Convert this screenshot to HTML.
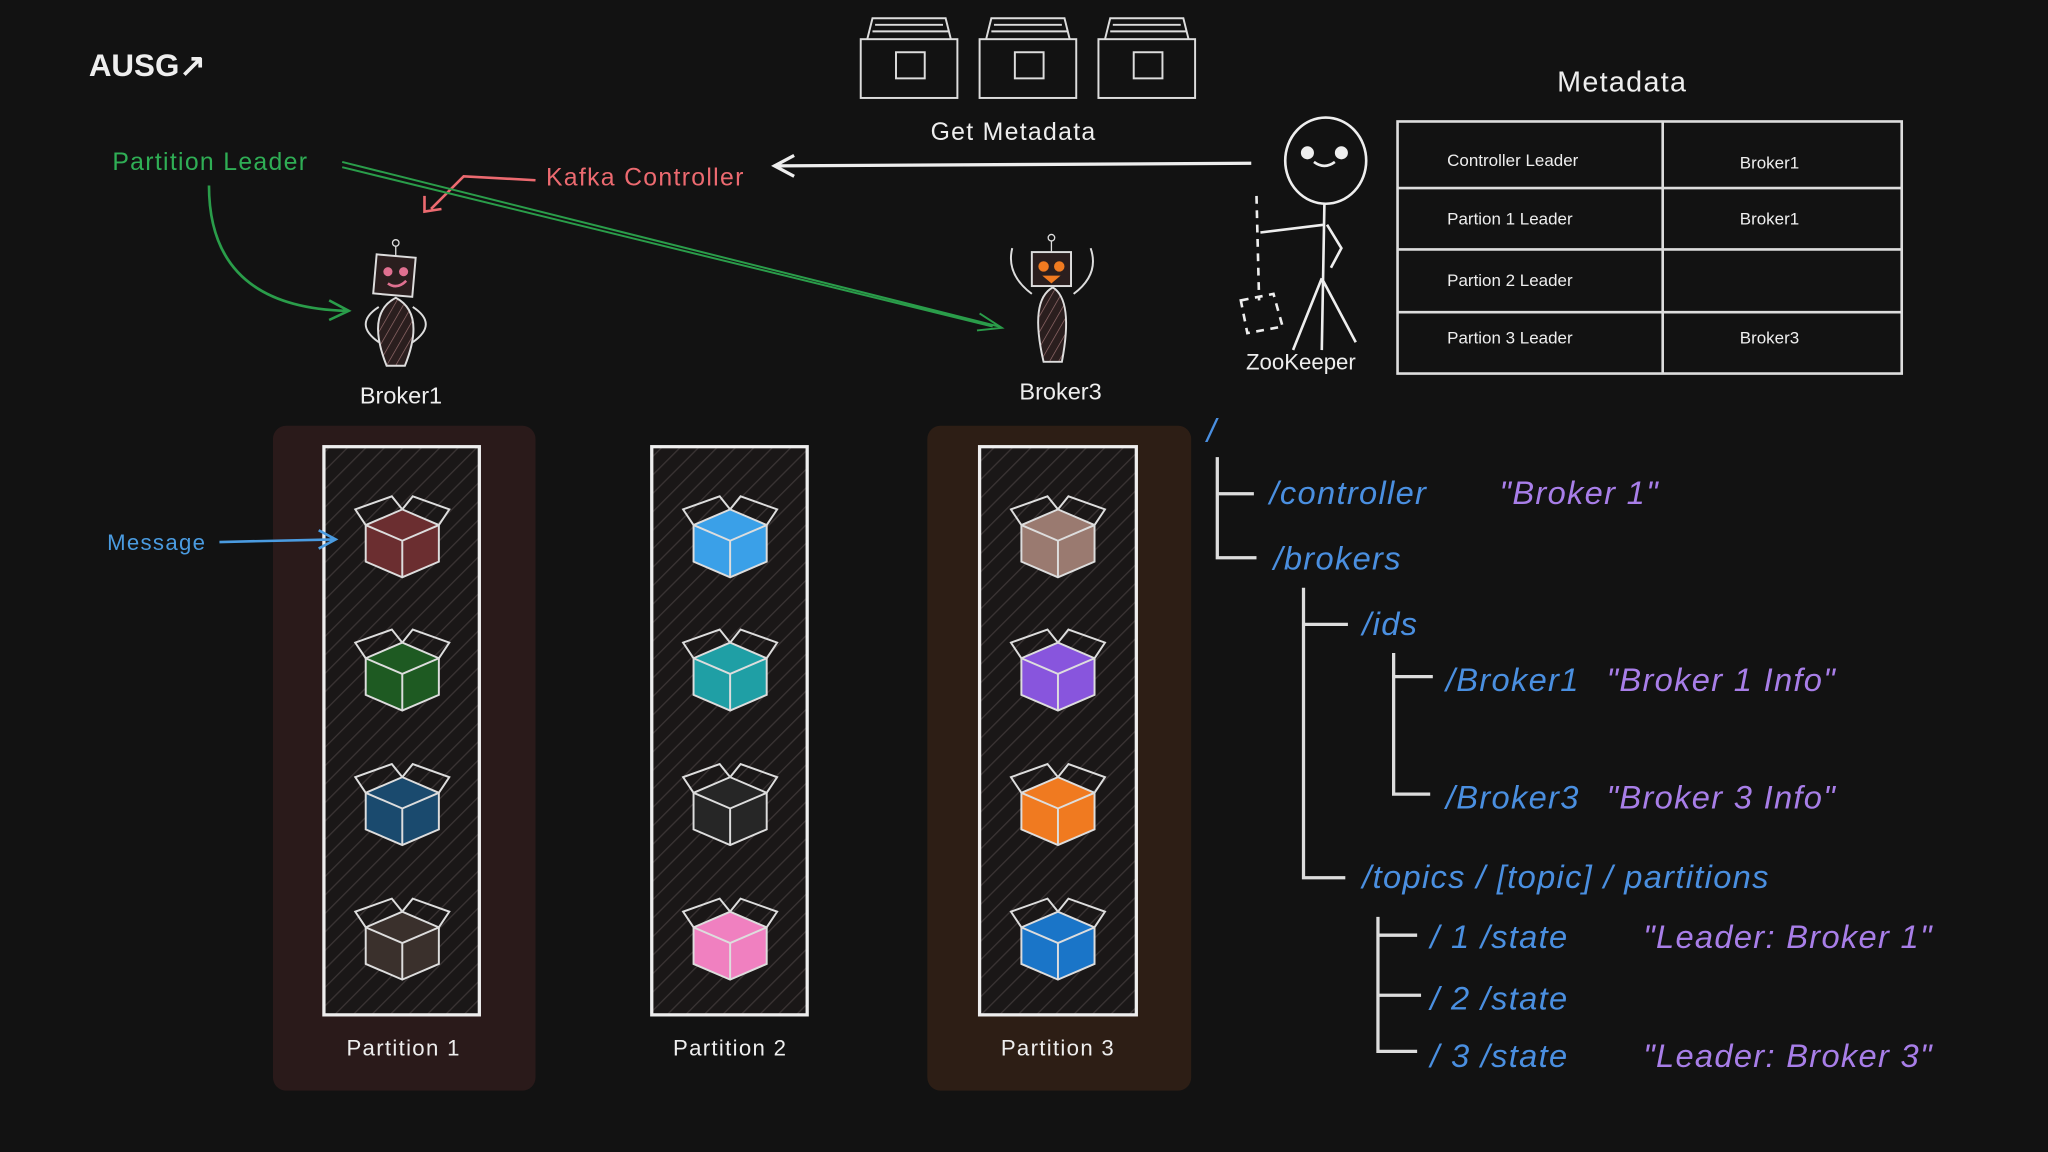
<!DOCTYPE html>
<html><head><meta charset="utf-8"><style>
html,body{margin:0;padding:0;background:#121212;}
svg{display:block;}
text{font-family:"Liberation Sans",sans-serif;}
</style></head><body>
<svg width="2048" height="1152" viewBox="0 0 1568 882" xmlns="http://www.w3.org/2000/svg">
<defs>
<pattern id="h" width="10" height="10" patternUnits="userSpaceOnUse" patternTransform="rotate(45)">
<rect width="10" height="10" fill="#1a1717"/><line x1="0" y1="0" x2="0" y2="10" stroke="#3a3434" stroke-width="2"/></pattern>
<pattern id="hr" width="6" height="6" patternUnits="userSpaceOnUse" patternTransform="rotate(30)">
<rect width="6" height="6" fill="#2a1e1e"/><line x1="0" y1="0" x2="0" y2="6" stroke="#9a7070" stroke-width="1"/></pattern>
<g id="box">
<path d="M-28,-10 L0,-22 L28,-10 L28,18 L0,30 L-28,18 Z" stroke="#ddd" stroke-width="1.5"/>
<path d="M-28,-10 L0,2 L28,-10 M0,2 L0,30 M-28,-10 L-36,-22 L-8,-32 L0,-22 M28,-10 L36,-22 L8,-32 L0,-22" stroke="#ddd" stroke-width="1.5" fill="none"/>
</g>
</defs>
<rect width="1568" height="882" fill="#121212"/>
<text x="68" y="58" font-size="24" font-weight="bold" fill="#eee">AUSG↗</text>
<g stroke="#ddd" stroke-width="1.5" fill="none">
<g><rect x="659" y="30" width="74" height="45"/><path d="M664,30 L668,14 L724,14 L728,30 M670,19 H722 M668,24 H726"/><rect x="686" y="40" width="22" height="20"/></g>
<g transform="translate(91,0)"><rect x="659" y="30" width="74" height="45"/><path d="M664,30 L668,14 L724,14 L728,30 M670,19 H722 M668,24 H726"/><rect x="686" y="40" width="22" height="20"/></g>
<g transform="translate(182,0)"><rect x="659" y="30" width="74" height="45"/><path d="M664,30 L668,14 L724,14 L728,30 M670,19 H722 M668,24 H726"/><rect x="686" y="40" width="22" height="20"/></g>
</g>
<text x="776" y="107" font-size="19" fill="#eee" text-anchor="middle" letter-spacing="1">Get Metadata</text>
<text x="1242" y="70" font-size="22" fill="#eee" text-anchor="middle" letter-spacing="1">Metadata</text>
<g stroke="#ddd" stroke-width="2" fill="none">
<rect x="1070" y="93" width="386" height="193"/>
<path d="M1273,93 V286 M1070,144 H1456 M1070,191 H1456 M1070,239 H1456"/>
</g>
<g font-size="13" fill="#eee">
<text x="1108" y="127">Controller Leader</text><text x="1332" y="129">Broker1</text>
<text x="1108" y="172">Partion 1 Leader</text><text x="1332" y="172">Broker1</text>
<text x="1108" y="219">Partion 2 Leader</text>
<text x="1108" y="263">Partion 3 Leader</text><text x="1332" y="263">Broker3</text>
</g>
<g stroke="#eee" stroke-width="2" fill="none">
<ellipse cx="1015" cy="123" rx="31" ry="33"/>
<path d="M1014,156 L1012,268 M1012,213 L990,268 M1012,213 L1038,262 M1014,172 L965,178 M1016,172 L1027,190 L1019,205"/>
<path d="M962,150 L964,230 M950,230 L975,225 L982,250 L955,255 Z" stroke-dasharray="6,5"/>
</g>
<circle cx="1001" cy="117" r="5" fill="#eee"/><circle cx="1027" cy="117" r="5" fill="#eee"/>
<path d="M1006,124 Q1014,130 1022,124" stroke="#eee" stroke-width="2" fill="none"/>
<text x="996" y="283" font-size="17" fill="#eee" text-anchor="middle">ZooKeeper</text>
<path d="M958,125 L595,127 M608,119 L593,127 L608,135" stroke="#eee" stroke-width="2.5" fill="none"/>
<text x="86" y="130" font-size="19" fill="#2fae55" letter-spacing="1">Partition Leader</text>
<text x="418" y="142" font-size="19" fill="#ec6a70" letter-spacing="1">Kafka Controller</text>
<path d="M410,138 L355,135 L330,160 M325,150 L325,162 L338,160" stroke="#ec6a70" stroke-width="2" fill="none"/>
<path d="M262,124 L765,250 M262,128 L760,250 M750,240 L767,251 L748,253" stroke="#2a9d4a" stroke-width="1.5" fill="none"/>
<path d="M160,142 Q160,235 265,238 M252,230 L267,238 L252,245" stroke="#2a9d4a" stroke-width="2" fill="none"/>
<g>
<path d="M296,280 Q280,240 303,228 Q326,240 310,280 Z" fill="url(#hr)" stroke="#ddd" stroke-width="1.5"/>
<path d="M290,235 Q270,248 290,262 M316,235 Q336,248 316,262" stroke="#ddd" fill="none" stroke-width="1.5"/>
<rect x="287" y="196" width="30" height="30" fill="#2a1e1e" stroke="#ddd" stroke-width="1.5" transform="rotate(5 302 211)"/>
<circle cx="297" cy="208" r="3.5" fill="#e07090"/><circle cx="309" cy="208" r="3.5" fill="#e07090"/>
<path d="M297,217 Q304,222 311,215" stroke="#e07090" stroke-width="2" fill="none"/>
<path d="M303,196 V188" stroke="#ddd"/><circle cx="303" cy="186" r="2.5" stroke="#ddd" fill="none"/>
</g>
<g>
<path d="M799,277 Q788,230 806,220 Q822,230 813,277 Z" fill="url(#hr)" stroke="#ddd" stroke-width="1.5"/>
<path d="M790,225 Q770,210 775,190 M822,225 Q842,210 835,190" stroke="#ddd" fill="none" stroke-width="1.5"/>
<rect x="790" y="193" width="30" height="26" fill="#2a1e1e" stroke="#ddd" stroke-width="1.5"/>
<circle cx="799" cy="204" r="4" fill="#f07a20"/><circle cx="811" cy="204" r="4" fill="#f07a20"/>
<path d="M798,211 L812,211 L805,217 Z" fill="#f07a20"/>
<path d="M805,193 V184" stroke="#ddd"/><circle cx="805" cy="182" r="2.5" stroke="#ddd" fill="none"/>
</g>
<text x="307" y="309" font-size="18" fill="#eee" text-anchor="middle">Broker1</text>
<text x="812" y="306" font-size="18" fill="#eee" text-anchor="middle">Broker3</text>
<rect x="209" y="326" width="201" height="509" rx="10" fill="#2a1a1a"/>
<rect x="710" y="326" width="202" height="509" rx="10" fill="#2d1e15"/>
<g stroke="#eee" stroke-width="2.5">
<rect x="248" y="342" width="119" height="435" fill="url(#h)"/>
<rect x="499" y="342" width="119" height="435" fill="url(#h)"/>
<rect x="750" y="342" width="120" height="435" fill="url(#h)"/>
</g>
<use href="#box" x="308" y="412" fill="#6b2e30"/><use href="#box" x="308" y="514" fill="#1e5a22"/>
<use href="#box" x="308" y="617" fill="#1a4a6e"/><use href="#box" x="308" y="720" fill="#3a302c"/>
<use href="#box" x="559" y="412" fill="#3aa0e8"/><use href="#box" x="559" y="514" fill="#1f9fa5"/>
<use href="#box" x="559" y="617" fill="#262626"/><use href="#box" x="559" y="720" fill="#f080c0"/>
<use href="#box" x="810" y="412" fill="#9a7a70"/><use href="#box" x="810" y="514" fill="#8855dd"/>
<use href="#box" x="810" y="617" fill="#f07a20"/><use href="#box" x="810" y="720" fill="#1a75c8"/>
<g font-size="17" fill="#eee" text-anchor="middle" letter-spacing="1">
<text x="309" y="808">Partition 1</text><text x="559" y="808">Partition 2</text><text x="810" y="808">Partition 3</text>
</g>
<text x="82" y="421" font-size="17" fill="#4a9be0" letter-spacing="1">Message</text>
<path d="M168,415 L256,413 M244,406 L257,413 L244,420" stroke="#4a9be0" stroke-width="2" fill="none"/>
<g stroke="#ddd" stroke-width="2.5" fill="none">
<path d="M932,350 V427 H962 M932,378 H960"/>
<path d="M998,450 V672 H1030 M998,478 H1032"/>
<path d="M1067,500 V608 H1095 M1067,518 H1097"/>
<path d="M1055,702 V805 H1085 M1055,716 H1085 M1055,762 H1088"/>
</g>
<g font-size="25" font-style="italic" letter-spacing="1">
<text x="924" y="338" fill="#4a8fe0">/</text>
<text x="972" y="386" fill="#4a8fe0">/controller</text><text x="1148" y="386" fill="#a87ee8">"Broker 1"</text>
<text x="975" y="436" fill="#4a8fe0">/brokers</text>
<text x="1043" y="486" fill="#4a8fe0">/ids</text>
<text x="1107" y="529" fill="#4a8fe0">/Broker1</text><text x="1230" y="529" fill="#a87ee8">"Broker 1 Info"</text>
<text x="1107" y="619" fill="#4a8fe0">/Broker3</text><text x="1230" y="619" fill="#a87ee8">"Broker 3 Info"</text>
<text x="1043" y="680" fill="#4a8fe0">/topics / [topic] / partitions</text>
<text x="1095" y="726" fill="#4a8fe0">/ 1 /state</text><text x="1258" y="726" fill="#a87ee8">"Leader: Broker 1"</text>
<text x="1095" y="773" fill="#4a8fe0">/ 2 /state</text>
<text x="1095" y="817" fill="#4a8fe0">/ 3 /state</text><text x="1258" y="817" fill="#a87ee8">"Leader: Broker 3"</text>
</g>
</svg>
</body></html>
